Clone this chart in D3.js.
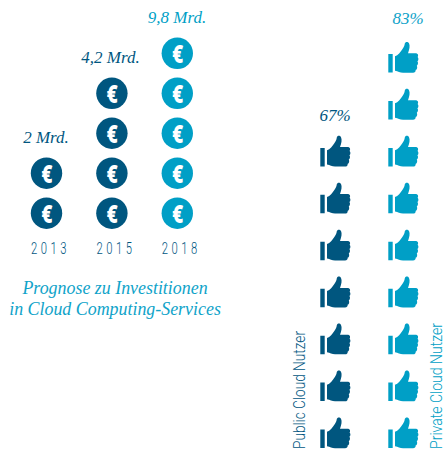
<!DOCTYPE html>
<html><head><meta charset="utf-8">
<style>html,body{margin:0;padding:0;background:#fff}svg{display:block}</style>
<script src="https://cdn.jsdelivr.net/npm/d3@7"></script>
</head><body><div id="c"></div>
<script>
const years = ["2013","2015","2018"];
const coinCounts = [2,4,5];
const coinLabels = ["2 Mrd.","4,2 Mrd.","9,8 Mrd."];
const groups = ["Public Cloud Nutzer","Private Cloud Nutzer"];
const thumbCounts = [7,9];
const thumbLabels = ["67%","83%"];
const captionLines = ["Prognose zu Investitionen","in Cloud Computing-Services"];
const DARK="#00567f", LIGHT="#009fc6", serif="'Liberation Serif',serif";

const svg=d3.select("#c").append("svg").attr("width",446).attr("height",452);

// coins
const xCoin=d3.scalePoint().domain(years).range([46.5,177.3]);
const yCoin=d3.scaleLinear().domain([0,4]).range([213.2,53.3]);
const coinColor=d3.scaleOrdinal().domain(years).range([DARK,DARK,LIGHT]);
years.forEach((yr,i)=>{
  const g=svg.append("g");
  const coins=g.selectAll("g").data(d3.range(coinCounts[i])).join("g")
    .attr("transform",d=>`translate(${xCoin(yr)},${yCoin(d)})`);
  coins.append("circle").attr("r",15.7).attr("fill",coinColor(yr));
  coins.append("text").text("€").attr("text-anchor","middle").attr("transform","translate(0.4,9.4) scale(.75,1)")
    .attr("font-family","'Open Sans',sans-serif").attr("font-weight",800).attr("font-size",25).attr("fill","#fff");
  svg.append("text").text(yr).attr("x",xCoin(yr)-15.5).attr("y",254)
    .attr("textLength",39).attr("lengthAdjust","spacingAndGlyphs")
    .attr("font-family","Roboto,sans-serif").attr("font-weight",300).attr("font-size",16)
    .attr("letter-spacing",5).attr("fill",DARK);
  svg.append("text").text(coinLabels[i])
    .attr("x",[46,110.5,177][i]).attr("y",yCoin(coinCounts[i]-1)-30)
    .attr("text-anchor","middle").attr("font-family",serif).attr("font-style","italic")
    .attr("font-size",17).attr("fill",i==2?LIGHT:DARK);
});
svg.selectAll("text.cap").data(captionLines).join("text").attr("class","cap").text(d=>d)
  .attr("x",115).attr("y",(d,i)=>294+i*21).attr("text-anchor","middle")
  .attr("font-family",serif).attr("font-style","italic").attr("font-size",17.9).attr("fill","#0fa3c9");

// thumbs
const thumbPath="M-14.7,-3.5H-10.3V15H-14.7Z M-8,-1.2C-5,-2 -2.5,-5.5 -0.5,-8.5C1,-10.5 1.5,-12 1.8,-14C2.2,-16 5,-16.2 6,-14.2C7.2,-12 6.5,-8 5,-4.3L12.5,-4.3C15,-4.3 15.8,-2 14.6,-0.5C15.8,0.6 15.6,3 14.4,3.8C15.4,5 15.2,7.4 13.8,8.2C14.6,9.6 14.2,12 12.6,12.6C13,14 12,15.2 10,15.2L0,15.2C-3,15.2 -5,13.6 -8,13.2Z";
const xThumb=d3.scalePoint().domain(groups).range([335,403]);
const yThumb=d3.scaleLinear().domain([0,8]).range([433,57.5]);
groups.forEach((grp,i)=>{
  const col=i?LIGHT:DARK;
  svg.append("g").selectAll("path").data(d3.range(thumbCounts[i])).join("path")
    .attr("d",thumbPath).attr("fill",col)
    .attr("transform",d=>`translate(${xThumb(grp)},${yThumb(d)})`);
  svg.append("text").text(thumbLabels[i]).attr("x",xThumb(grp)+(i?5:0)).attr("y",yThumb(thumbCounts[i]-1)-(i?34:30))
    .attr("text-anchor","middle").attr("font-family",serif).attr("font-style","italic")
    .attr("font-size",17).attr("fill",i?"#0fa3c9":DARK);
  svg.append("text").text(grp).attr("transform",`translate(${i?442:305},449) rotate(-90)`)
    .attr("textLength",i?126:118).attr("lengthAdjust","spacingAndGlyphs")
    .attr("font-family","Roboto,sans-serif").attr("font-weight",300).attr("font-size",16.5).attr("fill",col);
});
</script></body></html>
